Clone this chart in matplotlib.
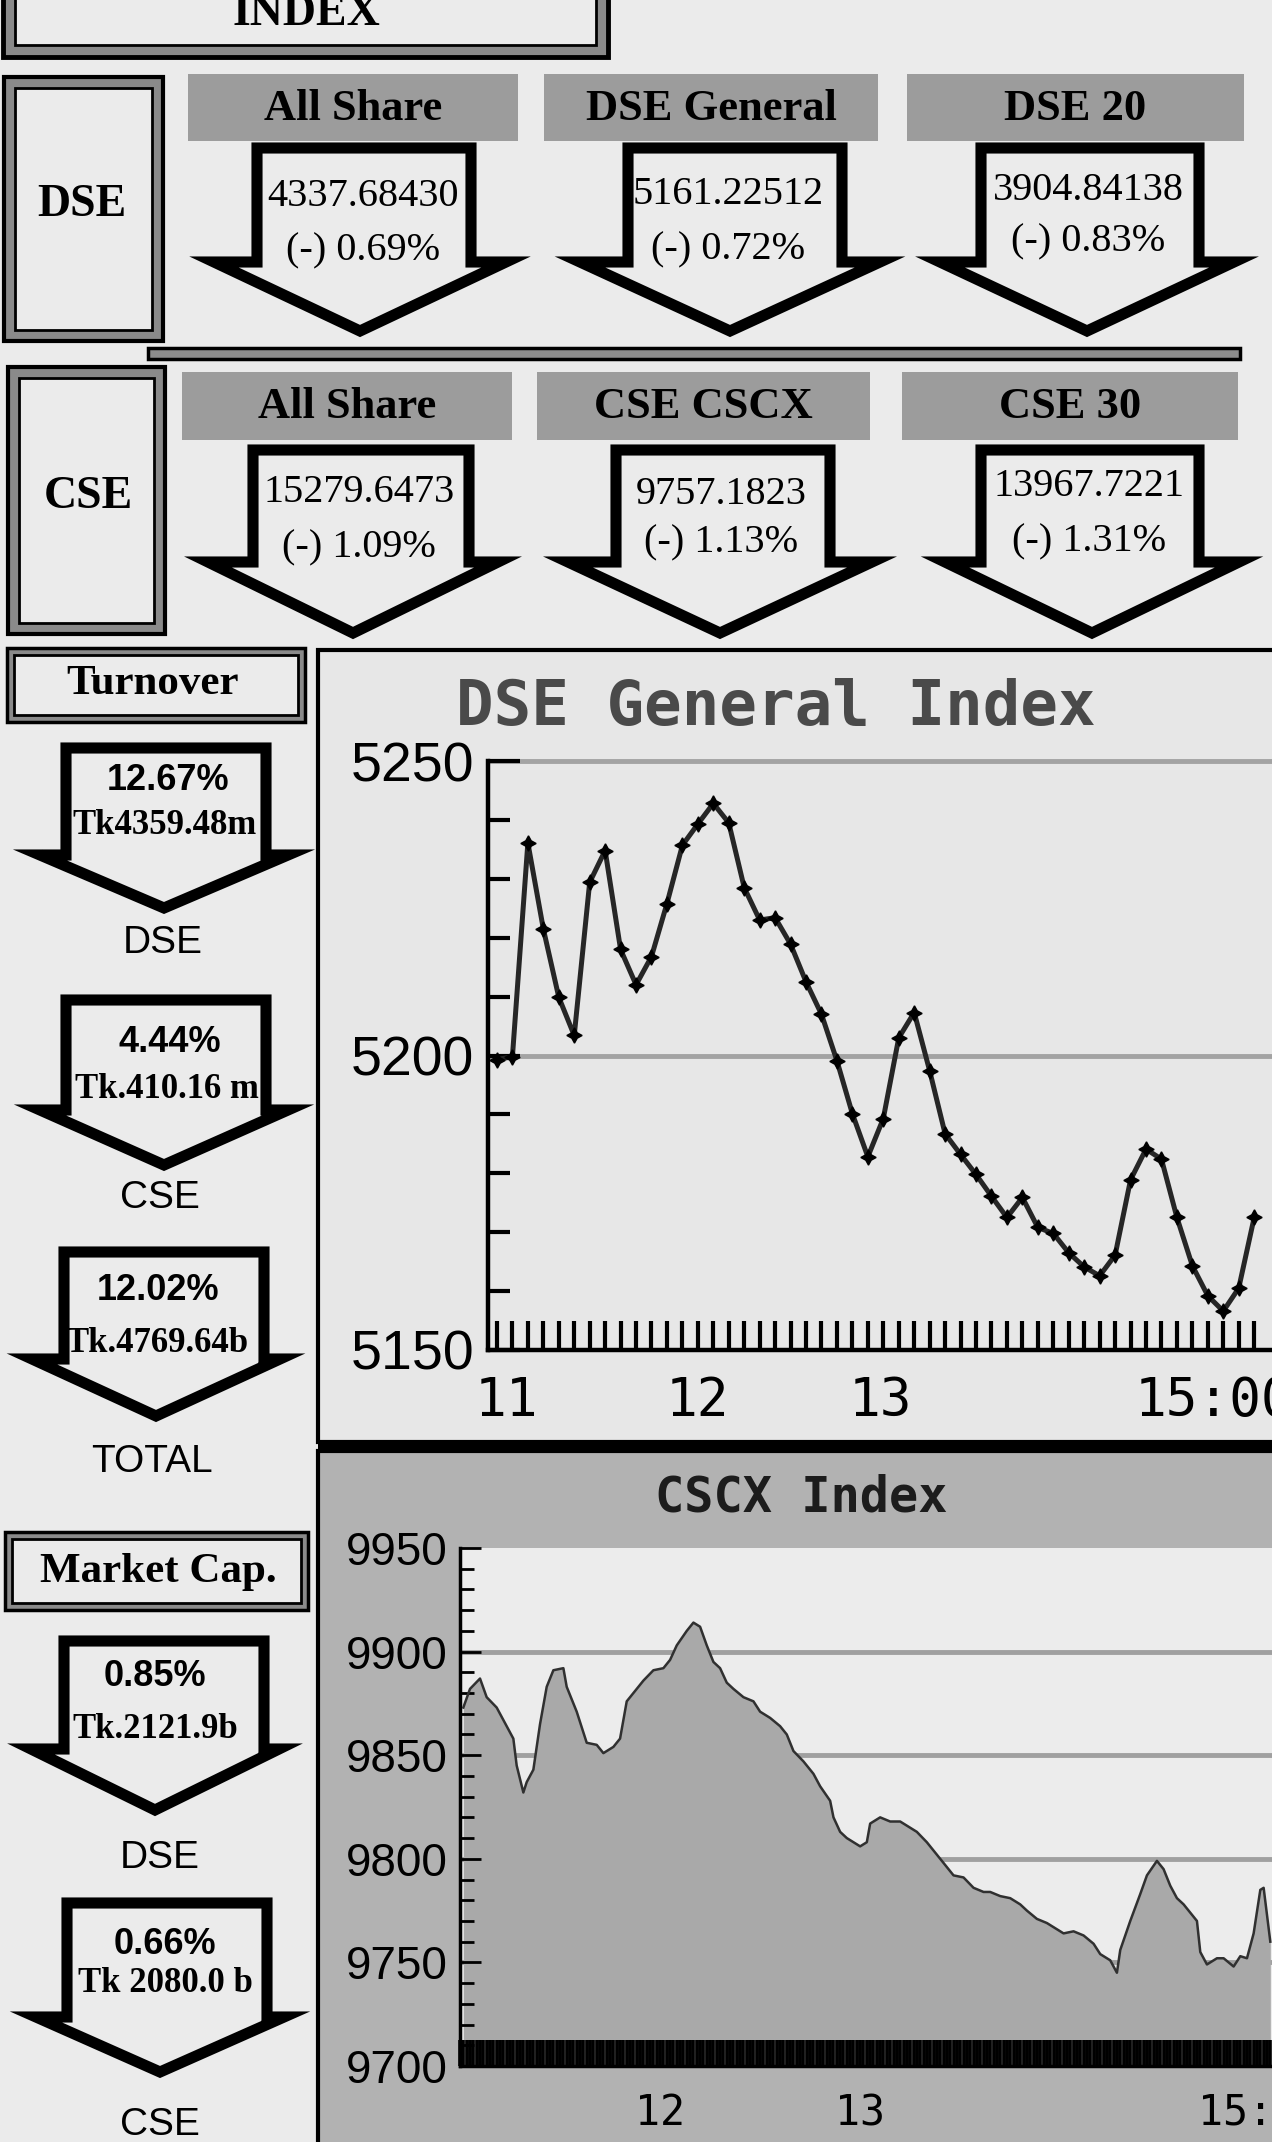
import matplotlib
matplotlib.use("Agg")
import matplotlib.pyplot as plt
from matplotlib.patches import Rectangle, Polygon
import numpy as np

# ---------------- data ----------------
dse_names = ["All Share", "DSE General", "DSE 20"]
dse_index = ["4337.68430", "5161.22512", "3904.84138"]
dse_change = ["(-) 0.69%", "(-) 0.72%", "(-) 0.83%"]

cse_names = ["All Share", "CSE CSCX", "CSE 30"]
cse_index = ["15279.6473", "9757.1823", "13967.7221"]
cse_change = ["(-) 1.09%", "(-) 1.13%", "(-) 1.31%"]

turnover_pct = ["12.67%", "4.44%", "12.02%"]
turnover_amt = ["Tk4359.48m", "Tk.410.16 m", "Tk.4769.64b"]
turnover_lab = ["DSE", "CSE", "TOTAL"]

mcap_pct = ["0.85%", "0.66%"]
mcap_amt = ["Tk.2121.9b", "Tk 2080.0 b"]
mcap_lab = ["DSE", "CSE"]

# DSE General Index, minutes after 11:00
dgen_min = [-5, 0, 5, 10, 15, 20, 25, 30, 35, 40, 45, 50, 55, 60, 65, 70, 75,
            80, 85, 90, 95, 100, 105, 110, 115, 120, 125, 130, 135, 140, 145,
            150, 155, 160, 165, 170, 175, 180, 185, 190, 195, 200, 205, 210,
            215, 220, 225, 230, 235, 240]
dgen_val = [5199.3, 5199.8, 5236.1, 5221.5, 5209.9, 5203.4, 5229.4, 5234.8,
            5218.0, 5212.0, 5216.8, 5225.8, 5235.7, 5239.3, 5242.8, 5239.5,
            5228.5, 5223.0, 5223.4, 5218.9, 5212.5, 5207.0, 5199.1, 5190.1,
            5182.8, 5189.3, 5203.0, 5207.3, 5197.4, 5186.7, 5183.2, 5179.8,
            5176.1, 5172.5, 5175.9, 5170.8, 5169.8, 5166.5, 5164.1, 5162.6,
            5166.1, 5178.9, 5184.1, 5182.4, 5172.5, 5164.3, 5159.2, 5156.6,
            5160.5, 5172.5]
dgen_tick_pos = [-2, 60, 119, 227]
dgen_tick_lab = ["11", "12", "13", "15:00"]

# CSCX Index, minutes after 11:00
cscx_min = [1, 3, 6, 8, 11, 14, 16, 17, 19, 20, 22, 24, 26, 28, 31, 32, 35,
            38, 41, 43, 46, 48, 50, 53, 55, 58, 61, 63, 65, 68, 70, 72, 74,
            76, 78, 80, 82, 85, 88, 90, 93, 96, 98, 100, 103, 106, 108, 111,
            112, 114, 116, 118, 120, 122, 123, 126, 129, 132, 135, 137, 140,
            143, 146, 148, 151, 154, 157, 159, 162, 165, 168, 170, 173, 176,
            179, 181, 184, 187, 190, 192, 195, 197, 198, 201, 204, 206, 209,
            211, 213, 215, 217, 219, 221, 222, 224, 227, 229, 232, 234, 236,
            238, 240, 241, 243]
cscx_val = [9873, 9882, 9887, 9878, 9873, 9864, 9858, 9845, 9832, 9837, 9843,
            9865, 9883, 9891, 9892, 9883, 9871, 9856, 9855, 9851, 9854, 9858,
            9876, 9882, 9886, 9891, 9892, 9896, 9903, 9910, 9914, 9912, 9903,
            9895, 9892, 9885, 9882, 9878, 9876, 9871, 9868, 9864, 9860, 9852,
            9847, 9841, 9835, 9828, 9820, 9813, 9810, 9808, 9806, 9808, 9817,
            9820, 9818, 9818, 9815, 9813, 9808, 9802, 9796, 9792, 9791, 9786,
            9784, 9784, 9782, 9781, 9778, 9775, 9771, 9769, 9766, 9764, 9765,
            9763, 9759, 9754, 9751, 9745, 9756, 9770, 9783, 9792, 9799, 9795,
            9787, 9781, 9778, 9774, 9770, 9755, 9749, 9752, 9752, 9748, 9753,
            9752, 9764, 9785, 9786, 9760]
cscx_tick_pos = [60, 120, 240]
cscx_tick_lab = ["12", "13", "15:00"]

# ---------------- layout ----------------
W, H = 1272, 2142
BG = "#ebebeb"
HEAD = "#9c9c9c"
SERIF = "Liberation Serif"
SANS = "Liberation Sans"
MONO = "DejaVu Sans Mono"

plt.rcParams["font.family"] = SANS

fig = plt.figure(figsize=(W / 100, H / 100), dpi=100)
fig.patch.set_facecolor(BG)
bg = fig.add_axes([0, 0, 1, 1])
bg.set_xlim(0, W)
bg.set_ylim(H, 0)
bg.axis("off")


def dbox(x0, y0, x1, y1, gap=11, lw=2.5):
    bg.add_patch(Rectangle((x0, y0), x1 - x0, y1 - y0, fc="#8a8a8a",
                           ec="black", lw=lw, zorder=1))
    bg.add_patch(Rectangle((x0 + gap, y0 + gap), x1 - x0 - 2 * gap,
                           y1 - y0 - 2 * gap, fc=BG, ec="black", lw=2,
                           zorder=1))


def arrow(sx, hx, sh, hh, top, neck, tip):
    pts = [(sx - sh, top), (sx + sh, top), (sx + sh, neck), (hx + hh, neck),
           (hx, tip), (hx - hh, neck), (sx - sh, neck)]
    bg.add_patch(Polygon(pts, closed=True, fc=BG, ec="black", lw=8,
                         joinstyle="miter", zorder=2))


# INDEX title box
dbox(3, -40, 608, 57, gap=12, lw=3.5)
bg.text(306, 14, "INDEX", family=SERIF, weight="bold", fontsize=33,
        ha="center", va="center", zorder=3)

# exchange label boxes
dbox(4, 77, 163, 341, gap=11, lw=3)
bg.text(82, 205, "DSE", family=SERIF, weight="bold", fontsize=33,
        ha="center", va="center", zorder=3)
dbox(8, 367, 165, 634, gap=11, lw=3)
bg.text(88, 497, "CSE", family=SERIF, weight="bold", fontsize=33,
        ha="center", va="center", zorder=3)

# separator between DSE and CSE rows
bg.add_patch(Rectangle((148, 348), 1092, 11, fc="#8c8c8c", ec="black",
                       lw=2.5, zorder=1))

# index rows
row_specs = [
    dict(names=dse_names, idx=dse_index, chg=dse_change, hy=(74, 141),
         hx=[(188, 518), (544, 878), (907, 1244)],
         arr=[(364, 360, 107, 146), (735, 730, 107, 150), (1090, 1087, 109, 147)],
         top=148, neck=262, tip=331,
         ty=[(197, 251), (195, 250), (190, 242)], tx=[363, 728, 1088]),
    dict(names=cse_names, idx=cse_index, chg=cse_change, hy=(372, 440),
         hx=[(182, 512), (537, 870), (902, 1238)],
         arr=[(361, 353, 108, 145), (723, 720, 107, 152), (1090, 1092, 109, 147)],
         top=450, neck=562, tip=633,
         ty=[(493, 548), (495, 543), (487, 542)], tx=[359, 721, 1089]),
]
for r in row_specs:
    for k in range(3):
        x0, x1 = r["hx"][k]
        y0, y1 = r["hy"]
        bg.add_patch(Rectangle((x0, y0), x1 - x0, y1 - y0, fc=HEAD, ec="none",
                               zorder=1))
        bg.text((x0 + x1) / 2, (y0 + y1) / 2 + 1, r["names"][k], family=SERIF,
                weight="bold", fontsize=32, ha="center", va="center", zorder=3)
        sx, hxc, sh, hh = r["arr"][k]
        arrow(sx, hxc, sh, hh, r["top"], r["neck"], r["tip"])
        bg.text(r["tx"][k], r["ty"][k][0], r["idx"][k], family=SERIF,
                fontsize=29, ha="center", va="center", zorder=3)
        bg.text(r["tx"][k], r["ty"][k][1], r["chg"][k], family=SERIF,
                fontsize=29, ha="center", va="center", zorder=3)

# left column: turnover and market cap
dbox(7, 648, 305, 722, gap=7, lw=2.5)
bg.text(153, 684, "Turnover", family=SERIF, weight="bold", fontsize=31,
        ha="center", va="center", zorder=3)
dbox(5, 1532, 308, 1610, gap=7, lw=2.5)
bg.text(158, 1572, "Market Cap.", family=SERIF, weight="bold", fontsize=31,
        ha="center", va="center", zorder=3)

side_geo = [  # shaft x, head x, top, neck, tip, pct y, amt y, label y
    (166, 164, 748, 855, 908, 781, 826, 943),
    (166, 164, 1000, 1110, 1165, 1043, 1090, 1198),
    (164, 156, 1252, 1359, 1416, 1291, 1343, 1462),
    (164, 155, 1641, 1749, 1810, 1677, 1729, 1858),
    (167, 160, 1903, 2017, 2072, 1944, 1984, 2125),
]
side_tx = [(168, 165, 163), (170, 167, 160), (158, 157, 152),
           (155, 155, 160), (165, 165, 160)]
side_pct = turnover_pct + mcap_pct
side_amt = turnover_amt + mcap_amt
side_lab = turnover_lab + mcap_lab
for k, (sx, hxc, top, neck, tip, py, ay, ly) in enumerate(side_geo):
    arrow(sx, hxc, 100, 124, top, neck, tip)
    tx1, tx2, tx3 = side_tx[k]
    bg.text(tx1, py, side_pct[k], weight="bold", fontsize=26, ha="center",
            va="center", zorder=3)
    bg.text(tx2, ay, side_amt[k], family=SERIF, weight="bold", fontsize=25,
            ha="center", va="center", zorder=3)
    bg.text(tx3, ly, side_lab[k], fontsize=28, ha="center", va="center",
            zorder=3)

# chart panels
bg.add_patch(Rectangle((318, 650), 1000, 792, fc="#e7e7e7", ec="black",
                       lw=3, zorder=1))
bg.add_patch(Rectangle((318, 1451), 1000, 800, fc="#b2b2b2", ec="black",
                       lw=3, zorder=1))
bg.add_patch(Rectangle((318, 1440), 1000, 12, fc="black", ec="none", zorder=1))
bg.text(776, 708, "DSE General Index", family=MONO, weight="bold",
        fontsize=45, color="#4a4a4a", ha="center", va="center", zorder=3)
bg.text(801, 1497, "CSCX Index", family=MONO, weight="bold", fontsize=35,
        color="#1c1c1c", ha="center", va="center", zorder=3)


def px_axes(left, top, right, bottom):
    return fig.add_axes([left / W, 1 - bottom / H, (right - left) / W,
                         (bottom - top) / H])


# ---- DSE General Index chart ----
ax1 = px_axes(488, 761, 1316, 1350)
ax1.set_zorder(3)
ax1.set_facecolor("#e7e7e7")
for v in [5200, 5250]:
    ax1.axhline(v, color="#a3a3a3", lw=3.5, zorder=0, clip_on=False)
ax1.plot(dgen_min, dgen_val, color="#262626", lw=3.6, marker=(4, 1, 0),
         ms=11, mfc="black", mec="black", zorder=3, clip_on=False)
ax1.set_xlim(-7.9, 260)
ax1.set_ylim(5150, 5250)
for s in ["top", "right"]:
    ax1.spines[s].set_visible(False)
for s in ["left", "bottom"]:
    ax1.spines[s].set_linewidth(3.2)
ax1.set_yticks([5150, 5200, 5250])
ax1.set_yticks([v for v in range(5160, 5250, 10) if v != 5200], minor=True)
ax1.tick_params(axis="y", which="major", direction="in", length=23, width=3,
                labelsize=40, pad=10)
ax1.tick_params(axis="y", which="minor", direction="in", length=16, width=3)
ax1.xaxis.remove_overlapping_locs = False
ax1.set_xticks(dgen_tick_pos, dgen_tick_lab)
ax1.set_xticks(dgen_min, minor=True)
ax1.tick_params(axis="x", which="major", length=0, labelsize=38, pad=18)
ax1.tick_params(axis="x", which="minor", direction="in", length=21, width=3)
for t in ax1.get_xticklabels():
    t.set_fontfamily(MONO)

# ---- CSCX Index chart ----
ax2 = px_axes(460, 1548, 1327, 2066)
ax2.set_zorder(3)
ax2.set_axisbelow(False)
ax2.set_facecolor("#ececec")
for v in [9750, 9800, 9850, 9900]:
    ax2.axhline(v, color="#a0a0a0", lw=3.5, zorder=1)
ax2.fill_between(cscx_min, cscx_val, 9700, color="#a9a9a9", lw=0, zorder=2)
ax2.plot(cscx_min, cscx_val, color="#303030", lw=1.8, zorder=3)
ax2.set_xlim(0, 260)
ax2.set_ylim(9700, 9950)
for s in ["top", "right"]:
    ax2.spines[s].set_visible(False)
for s in ["left", "bottom"]:
    ax2.spines[s].set_linewidth(2.5)
ax2.set_yticks(list(range(9700, 9951, 50)))
ax2.set_yticks([v for v in range(9710, 9950, 10) if v % 50], minor=True)
ax2.tick_params(axis="y", which="major", direction="in", length=15, width=2,
                labelsize=33, pad=9)
ax2.tick_params(axis="y", which="minor", direction="in", length=10, width=2)
ax2.xaxis.remove_overlapping_locs = False
ax2.set_xticks(cscx_tick_pos, cscx_tick_lab)
ax2.set_xticks(np.arange(0, 261, 1), minor=True)
ax2.tick_params(axis="x", which="major", length=0, labelsize=30, pad=19)
ax2.tick_params(axis="x", which="minor", direction="in", length=19, width=2.6)
for t in ax2.get_xticklabels():
    t.set_fontfamily(MONO)

fig.savefig("out.png", dpi=100, facecolor=BG)
